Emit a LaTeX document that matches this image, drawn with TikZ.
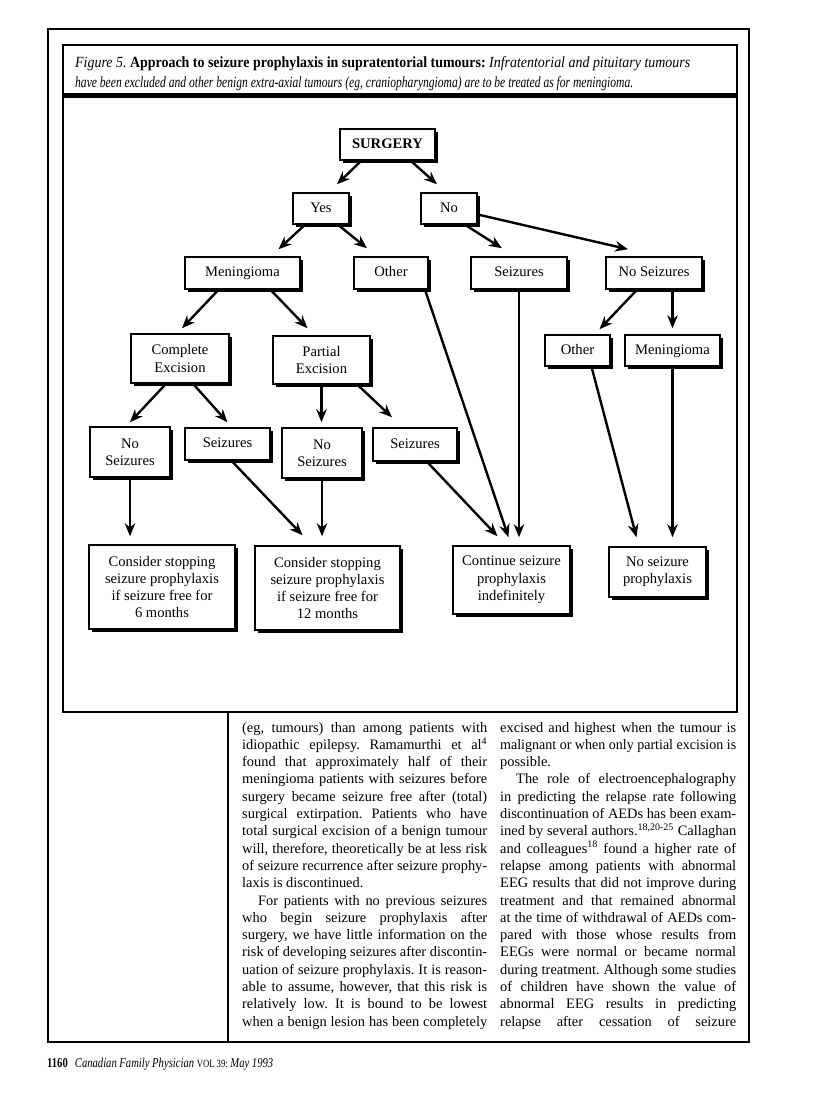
\documentclass[tikz,border=0pt]{standalone}
\usepackage{graphicx}
\usepackage{fontspec}
\setmainfont{Liberation Serif}
\usetikzlibrary{arrows.meta,shadows}
\frenchspacing
\newsavebox\lnbox
\newcommand\jline[2]{\savebox\lnbox{#2}\ifdim\wd\lnbox>#1\relax\resizebox{#1}{\height}{#2}\else\makebox[#1][s]{#2}\fi}
\newcommand\fitline[2]{\resizebox{#1}{\height}{#2}}
\begin{document}
\begin{tikzpicture}[x=1pt,y=-1pt,
  fbox/.style={draw, line width=1.5pt, fill=white, inner sep=0pt, align=center,
    font=\fontsize{14.6}{17.3}\selectfont,
    drop shadow={shadow xshift=3pt, shadow yshift=-3pt, opacity=1, fill=black}},
  one/.style={text height=10pt, text depth=3pt},
  arr/.style={line width=2.4pt, -{Stealth[length=13pt,width=10.5pt]}},
  frameline/.style={line width=1.2pt},
  bt/.style={anchor=base west, inner sep=0pt, font=\fontsize{14.4}{16}\selectfont},
  captext/.style={anchor=base west, inner sep=0pt, font=\fontsize{15.5}{17}\selectfont}]
\useasboundingbox (0,0) rectangle (816,1108);
\fill[white] (0,0) rectangle (816,1108);

% frames
\draw[frameline] (48,29) rectangle (749,1042);
\draw[line width=1.5pt] (63,45) rectangle (737,712);
\fill (63,93) rectangle (737,98);
\draw[frameline] (228,712) -- (228,1042);

% caption
\node[captext] (cap1) at (75,67) {\fitline{615pt}{\textit{Figure 5.} \textbf{Approach to seizure prophylaxis in supratentorial tumours:} \textit{Infratentorial and pituitary tumours}}};
\node[captext] (cap2) at (75,88) {\fitline{558pt}{\textit{have been excluded and other benign extra-axial tumours (eg, craniopharyngioma) are to be treated as for meningioma.}}};

% boxes
\node[fbox, one, minimum width=95pt, minimum height=31pt] (surg) at (387.5,144.5) {\textbf{SURGERY}};
\node[fbox, one, minimum width=56pt, minimum height=31pt] (yes) at (321,208.5) {Yes};
\node[fbox, one, minimum width=56pt, minimum height=31pt] (no) at (449,208.5) {No};
\node[fbox, one, minimum width=115pt, minimum height=32pt] (menL) at (242.5,273) {Meningioma};
\node[fbox, one, minimum width=74pt, minimum height=32pt] (othL) at (391,273) {Other};
\node[fbox, one, minimum width=96pt, minimum height=32pt] (seizR) at (519,273) {Seizures};
\node[fbox, one, minimum width=96pt, minimum height=32pt] (noseizR) at (654,273) {No Seizures};
\node[fbox, minimum width=98pt, minimum height=49pt] (comp) at (180,358.5) {Complete\\Excision};
\node[fbox, minimum width=97pt, minimum height=48pt] (part) at (321.5,360) {Partial\\Excision};
\node[fbox, one, minimum width=65pt, minimum height=31pt] (othR) at (577.5,350.5) {Other};
\node[fbox, one, minimum width=95pt, minimum height=31pt] (menR) at (672.5,350.5) {Meningioma};
\node[fbox, minimum width=80pt, minimum height=50pt] (ns1) at (130,452) {No\\Seizures};
\node[fbox, one, minimum width=85pt, minimum height=32pt] (sz2) at (227.5,444) {Seizures};
\node[fbox, minimum width=80pt, minimum height=50pt] (ns3) at (322,453) {No\\Seizures};
\node[fbox, one, minimum width=84pt, minimum height=33pt] (sz4) at (415,444.5) {Seizures};
\node[fbox, minimum width=146pt, minimum height=84pt] (c6) at (162,587) {Consider stopping\\seizure prophylaxis\\if seizure free for\\6 months};
\node[fbox, minimum width=145pt, minimum height=84pt] (c12) at (327.5,588) {Consider stopping\\seizure prophylaxis\\if seizure free for\\12 months};
\node[fbox, minimum width=117pt, minimum height=68pt] (cont) at (511.5,580) {Continue seizure\\prophylaxis\\indefinitely};
\node[fbox, minimum width=97pt, minimum height=50pt] (nsp) at (657.5,572) {No seizure\\prophylaxis};

% connectors
\draw[arr] ([xshift=22pt]surg.south west) -- ([xshift=16pt,yshift=8pt]yes.north);
\draw[arr] ([xshift=-25pt]surg.south east) -- ([xshift=-12pt,yshift=8pt]no.north);
\draw[arr] ([xshift=-16pt]yes.south) -- ([xshift=36pt,yshift=7pt]menL.north);
\draw[arr] ([xshift=17pt]yes.south) -- ([xshift=-24pt,yshift=8pt]othL.north);
\draw[arr] ([xshift=16pt]no.south) -- ([xshift=-17pt,yshift=8pt]seizR.north);
\draw[arr] ([yshift=-6pt]no.east) -- ([xshift=-26pt,yshift=7pt]noseizR.north);
\draw[arr] ([xshift=-24pt]menL.south) -- ([xshift=2pt,yshift=5pt]comp.north);
\draw[arr] ([xshift=28pt]menL.south) -- ([xshift=-14pt,yshift=7pt]part.north);
\draw[arr] ([xshift=34pt]othL.south) -- ([xshift=-3pt,yshift=8pt]cont.north);
\draw[arr] (seizR.south) -- ([yshift=8pt]cont.north -| seizR.south);
\draw[arr] ([xshift=-17pt]noseizR.south) -- ([xshift=22pt,yshift=5pt]othR.north);
\draw[arr] (menR.north |- noseizR.south) -- ([yshift=6pt]menR.north);
\draw[arr] ([xshift=14pt]othR.south) -- ([xshift=-21pt,yshift=9pt]nsp.north);
\draw[arr] (menR.south) -- ([yshift=9pt]nsp.north -| menR.south);
\draw[arr] ([xshift=-14pt]comp.south) -- ([yshift=4pt]ns1.north);
\draw[arr] ([xshift=13pt]comp.south) -- ([yshift=5pt]sz2.north);
\draw[arr] (part.south) -- ([yshift=5pt]ns3.north -| part.south);
\draw[arr] ([xshift=36pt]part.south) -- ([xshift=-23pt,yshift=10pt]sz4.north);
\draw[arr] (ns1.south) -- ([yshift=8pt]c6.north -| ns1.south);
\draw[arr] ([xshift=4pt]sz2.south) -- ([xshift=-25pt,yshift=10pt]c12.north);
\draw[arr] (ns3.south) -- ([yshift=9pt]c12.north -| ns3.south);
\draw[arr] ([xshift=12pt]sz4.south) -- ([xshift=-14pt,yshift=9pt]cont.north);

% left column text
\node[bt] (l1) at (242,732) {\jline{245pt}{(eg, tumours) than among patients with}};
\node[bt] (l2) at (242,749.3) {\jline{245pt}{idiopathic epilepsy. Ramamurthi et al\textsuperscript{4}}};
\node[bt] (l3) at (242,766.6) {\jline{245pt}{found that approximately half of their}};
\node[bt] (l4) at (242,783.9) {\jline{245pt}{meningioma patients with seizures before}};
\node[bt] (l5) at (242,801.2) {\jline{245pt}{surgery became seizure free after (total)}};
\node[bt] (l6) at (242,818.5) {\jline{245pt}{surgical extirpation. Patients who have}};
\node[bt] (l7) at (242,835.8) {\jline{245pt}{total surgical excision of a benign tumour}};
\node[bt] (l8) at (242,853.1) {\jline{245pt}{will, therefore, theoretically be at less risk}};
\node[bt] (l9) at (242,870.4) {\jline{245pt}{of seizure recurrence after seizure prophy-}};
\node[bt] (l10) at (242,887.7) {laxis is discontinued.};
\node[bt] (l11) at (258,905) {\jline{229pt}{For patients with no previous seizures}};
\node[bt] (l12) at (242,922.3) {\jline{245pt}{who begin seizure prophylaxis after}};
\node[bt] (l13) at (242,939.6) {\jline{245pt}{surgery, we have little information on the}};
\node[bt] (l14) at (242,956.9) {\jline{245pt}{risk of developing seizures after discontin-}};
\node[bt] (l15) at (242,974.2) {\jline{245pt}{uation of seizure prophylaxis. It is reason-}};
\node[bt] (l16) at (242,991.5) {\jline{245pt}{able to assume, however, that this risk is}};
\node[bt] (l17) at (242,1008.8) {\jline{245pt}{relatively low. It is bound to be lowest}};
\node[bt] (l18) at (242,1026.1) {\jline{245pt}{when a benign lesion has been completely}};

% right column text
\node[bt] (r1) at (500,732) {\jline{236pt}{excised and highest when the tumour is}};
\node[bt] (r2) at (500,749.3) {\jline{236pt}{malignant or when only partial excision is}};
\node[bt] (r3) at (500,766.6) {possible.};
\node[bt] (r4) at (516,783.9) {\jline{220pt}{The role of electroencephalography}};
\node[bt] (r5) at (500,801.2) {\jline{236pt}{in predicting the relapse rate following}};
\node[bt] (r6) at (500,818.5) {\jline{236pt}{discontinuation of AEDs has been exam-}};
\node[bt] (r7) at (500,835.8) {\jline{236pt}{ined by several authors.\textsuperscript{18,20-25} Callaghan}};
\node[bt] (r8) at (500,853.1) {\jline{236pt}{and colleagues\textsuperscript{18} found a higher rate of}};
\node[bt] (r9) at (500,870.4) {\jline{236pt}{relapse among patients with abnormal}};
\node[bt] (r10) at (500,887.7) {\jline{236pt}{EEG results that did not improve during}};
\node[bt] (r11) at (500,905) {\jline{236pt}{treatment and that remained abnormal}};
\node[bt] (r12) at (500,922.3) {\jline{236pt}{at the time of withdrawal of AEDs com-}};
\node[bt] (r13) at (500,939.6) {\jline{236pt}{pared with those whose results from}};
\node[bt] (r14) at (500,956.9) {\jline{236pt}{EEGs were normal or became normal}};
\node[bt] (r15) at (500,974.2) {\jline{236pt}{during treatment. Although some studies}};
\node[bt] (r16) at (500,991.5) {\jline{236pt}{of children have shown the value of}};
\node[bt] (r17) at (500,1008.8) {\jline{236pt}{abnormal EEG results in predicting}};
\node[bt] (r18) at (500,1026.1) {\jline{236pt}{relapse after cessation of seizure}};

% footer
\node[anchor=base west, inner sep=0pt, font=\fontsize{13.5}{15}\selectfont] (foot) at (47,1067)
  {\fitline{226pt}{\textbf{1160}\hspace{9pt}\textit{Canadian Family Physician} {\fontsize{11}{12}\selectfont VOL 39:} \textit{May 1993}}};
\end{tikzpicture}
\end{document}
